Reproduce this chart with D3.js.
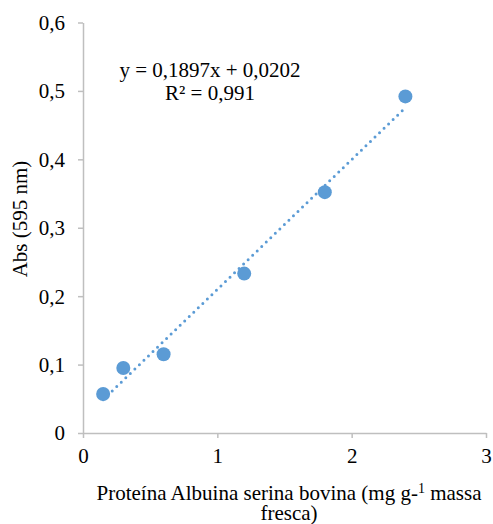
<!DOCTYPE html>
<html><head><meta charset="utf-8">
<script src="https://cdn.jsdelivr.net/npm/d3@7"></script>
<style>body{margin:0;background:#fff}svg text{font-family:"Liberation Serif","Times New Roman",serif;fill:#000}</style>
</head><body>
<script>
const xValues = [0.15, 0.3, 0.6, 1.2, 1.8, 2.4];
const yValues = [0.057, 0.095, 0.115, 0.233, 0.352, 0.492];
const xTicks = [0, 1, 2, 3];
const yTicks = [0, 0.1, 0.2, 0.3, 0.4, 0.5, 0.6];
const slope = 0.1897, intercept = 0.0202;
const eqText = "y = 0,1897x + 0,0202";
const r2Text = "R² = 0,991";

const W = 493, H = 524;
const svg = d3.select("body").append("svg").attr("width", W).attr("height", H);
const x = d3.scaleLinear().domain([0, 3]).range([83, 486]);
const y = d3.scaleLinear().domain([0, 0.6]).range([433, 22.5]);
const fmt = d => String(d).replace(".", ",");
const gray = "#bfbfbf";
const FS = "21px";

const gx = svg.append("g").attr("transform", `translate(0,${y(0)})`)
  .call(d3.axisBottom(x).tickValues(xTicks).tickSize(5).tickSizeOuter(0).tickFormat(fmt));
const gy = svg.append("g").attr("transform", `translate(${x(0)},0)`)
  .call(d3.axisLeft(y).tickValues(yTicks).tickSize(5).tickSizeOuter(0).tickFormat(fmt));
[gx, gy].forEach(g => {
  g.attr("font-family", null).attr("font-size", null);
  g.selectAll("path,line").attr("stroke", gray).attr("stroke-width", 1.5);
  g.selectAll("text").style("font-size", FS).attr("fill", "#000");
});
gx.selectAll("text").attr("dy", "0").attr("y", 30);
gy.selectAll("text").attr("x", -18).attr("dy", "0.33em");

// trendline
const x0 = d3.min(xValues), x1 = d3.max(xValues);
svg.append("line")
  .attr("x1", x(x0)).attr("y1", y(slope * x0 + intercept))
  .attr("x2", x(x1)).attr("y2", y(slope * x1 + intercept))
  .attr("stroke", "#5b9bd5").attr("stroke-width", 3)
  .attr("stroke-linecap", "round").attr("stroke-dasharray", "0 6.3");

svg.selectAll("circle.pt").data(xValues).join("circle").attr("class", "pt")
  .attr("cx", d => x(d)).attr("cy", (d, i) => y(yValues[i])).attr("r", 7)
  .attr("fill", "#5b9bd5");

svg.append("text").attr("x", 210).attr("y", 77).attr("text-anchor", "middle")
  .style("font-size", FS).text(eqText);
svg.append("text").attr("x", 210).attr("y", 100).attr("text-anchor", "middle")
  .style("font-size", FS).text(r2Text);

svg.append("text").attr("transform", "translate(27,219) rotate(-90)")
  .attr("text-anchor", "middle").style("font-size", FS).text("Abs (595 nm)");

const t = svg.append("text").attr("x", 289).attr("y", 500).attr("text-anchor", "middle")
  .style("font-size", FS);
t.append("tspan").text("Proteína Albuina serina bovina (mg g-");
t.append("tspan").attr("dy", -7).style("font-size", "14px").text("1");
t.append("tspan").attr("dy", 7).text(" massa");
svg.append("text").attr("x", 289).attr("y", 520).attr("text-anchor", "middle")
  .style("font-size", FS).text("fresca)");
</script>
</body></html>
